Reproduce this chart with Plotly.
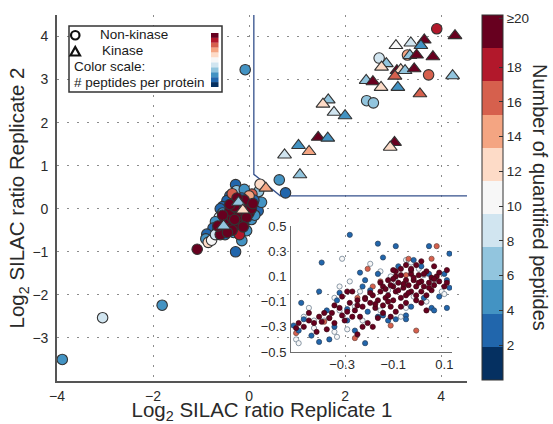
import plotly.graph_objects as go

W, H = 553, 424

# ---------------- colour classes (number of quantified peptides) ----------------
class_colors = ["#053061", "#2166ac", "#4393c3", "#92c5de", "#d1e5f0", "#f7f7f7",
                "#fddbc7", "#f4a582", "#d6604d", "#b2182b", "#67001f"]
cmin, cmax = 0, 21
cbar_tickvals = [2, 4, 6, 8, 10, 12, 14, 16, 18, 20.8]
cbar_ticktext = ["2", "4", "6", "8", "10", "12", "14", "16", "18", "≥20"]

# ---------------- main plot data ----------------
# non-kinase proteins (circles)
nk_x = [3.91, 2.71, 3.30, 3.74, 2.45, 2.59, -0.08, 0.63, 0.76, -1.81, -3.05, -3.89,
        -0.28, -0.26, -0.40, -0.46, -0.55, -0.60, -0.62, -0.70, -0.75, -0.88, -0.90, -0.15,
        -0.28, -0.05, 0.19, 0.26, 0.20, 0.06, 0.23, -0.10, -0.35, 0.10, -0.45, -0.10,
        -0.20, 0.05, -0.50, -0.65, -0.32, 0.00, -0.85, -0.78, -1.08, -0.20, -0.35, 0.00,
        -0.55, -0.15, 0.12, -0.70,
        -0.55, -0.45, -0.40, -0.50, -0.35, -0.30, -0.40, -0.25, -0.20, -0.15, -0.10, -0.05,
        -0.20, -0.30, -0.10, 0.00, -0.15, -0.25, -0.35, -0.60, -0.45, -0.05, 0.05, -0.25,
        -0.40, -0.55, -0.65, -0.30, 0.08, -0.12]
nk_y = [4.18, 3.50, 3.57, 3.11, 2.51, 2.46, 3.23, 0.67, 0.37, -2.24, -2.53, -3.50,
        0.56, 0.42, 0.30, 0.19, 0.05, 0.00, -0.20, -0.30, -0.45, -0.59, -0.70, -0.74,
        -1.00, -0.51, -0.05, 0.15, 0.40, 0.34, 0.57, 0.45, 0.10, 0.20, -0.35, -0.30,
        -0.50, -0.25, -0.60, -0.50, -0.55, 0.05, -0.78, -0.73, -0.94, -0.60, 0.35, 0.30,
        -0.10, 0.25, -0.15, -0.60,
        -0.45, -0.40, -0.30, -0.25, -0.20, -0.10, -0.05, 0.00, -0.15, 0.05, -0.05, 0.10,
        0.15, 0.05, 0.20, -0.10, -0.30, -0.35, -0.50, -0.60, -0.55, -0.20, 0.00, 0.25,
        0.10, -0.15, -0.40, -0.25, 0.12, -0.42]
nk_n = [18, 9, 14, 16, 7, 7, 5, 5, 3, 5, 9, 5,
        3, 7, 3, 3, 3, 3, 9, 5, 3, 3, 5, 5,
        3, 5, 3, 5, 7, 16, 12, 5, 7, 3, 5, 3,
        7, 5, 3, 1, 5, 7, 12, 11, 25, 18, 16, 14,
        5, 3, 5, 9,
        25, 25, 25, 25, 25, 25, 25, 25, 25, 25, 25, 25,
        25, 25, 25, 25, 25, 25, 25, 25, 25, 25, 25, 25,
        25, 25, 25, 25, 25, 25]

# kinases (triangles)
k_x = [4.29, 3.06, 3.37, 3.65, 3.58, 2.86, 2.76, 3.35, 3.49, 3.83, 3.08, 3.16, 3.04,
       3.25, 3.44, 4.24, 2.44, 2.58, 2.75, 3.10, 3.56, 1.65, 1.54, 1.77, 2.00, 1.44,
       1.64, 1.03, 1.25, 0.74, 3.03, 2.94, 1.06, 0.35, -0.22, -0.13, -0.53]
k_y = [4.02, 3.79, 3.85, 3.92, 3.79, 3.37, 3.29, 3.56, 3.57, 3.53, 3.21, 3.23, 3.08,
       3.21, 3.25, 3.09, 2.98, 2.95, 2.82, 2.82, 2.67, 2.53, 2.43, 2.24, 2.16, 1.66,
       1.64, 1.47, 1.33, 1.25, 1.54, 1.43, 0.79, 0.48, 0.15, -0.03, -0.40]
k_n = [25, 11, 9, 25, 5, 7, 12, 7, 25, 25, 25, 12, 16,
       7, 25, 7, 7, 25, 12, 5, 16, 7, 12, 9, 5, 25,
       5, 5, 14, 9, 25, 12, 7, 14, 7, 12, 7]

# significance threshold line
thr_x = [0.10, 0.10, 0.65, 4.54]
thr_y = [4.50, 0.80, 0.30, 0.30]

# ---------------- inset data ----------------
in_blue_x = [-0.27, -0.16, -0.09, 0.04, 0.12, -0.38, -0.14, -0.23, -0.31, -0.39, -0.46, -0.19,
             -0.21, -0.02, 0.04, 0.01, 0.08, 0.05, 0.06, 0.02, -0.05, -0.05, -0.09, -0.14,
             -0.16, -0.20, -0.25, -0.28, -0.45, -0.49, -0.42, -0.39, -0.35, -0.21, -0.33,
             -0.36, -0.28, 0.11, 0.11, 0.10, 0.12, -0.22, -0.08, -0.16, -0.32, -0.47, -0.12, -0.03]
in_blue_y = [0.43, 0.36, 0.34, 0.34, 0.28, 0.21, 0.25, 0.13, -0.03, -0.02, -0.11, -0.01,
             0.07, 0.23, 0.12, 0.18, -0.06, -0.15, -0.17, -0.07, -0.21, -0.24, -0.24, -0.21,
             -0.22, -0.18, -0.33, -0.25, -0.24, -0.29, -0.37, -0.42, -0.40, -0.43, -0.30,
             -0.17, -0.16, -0.15, 0.07, 0.12, 0.01, 0.02, 0.18, 0.12, -0.09, -0.33, -0.25, -0.14]

in_open_x = [-0.30, -0.19, -0.05, -0.04, -0.03, 0.00, -0.11, -0.09, -0.12, 0.02, 0.09, 0.10,
             -0.31, -0.33, -0.43, -0.45, -0.41, -0.37, -0.48, -0.47, -0.41, -0.33, -0.32,
             -0.28, -0.22, -0.15, -0.05, -0.07, -0.02, 0.03, -0.31, -0.25, -0.27, -0.23,
             0.06, -0.15]
in_open_y = [0.24, 0.20, 0.23, 0.23, 0.21, 0.16, 0.10, 0.06, -0.01, 0.11, -0.02, -0.04,
             0.02, -0.07, -0.15, -0.22, -0.25, -0.25, -0.40, -0.43, -0.31, -0.34, -0.38,
             -0.32, -0.25, -0.17, -0.15, -0.22, -0.06, -0.10, -0.17, -0.14, 0.06, -0.02,
             0.07, 0.14]

in_salmon_x = [0.07, -0.04, -0.20, -0.24, -0.37, -0.48, -0.25, -0.01, -0.15, -0.05, -0.35,
               -0.18, -0.11, 0.05]
in_salmon_y = [0.34, 0.24, 0.16, -0.07, -0.26, -0.35, -0.39, -0.33, 0.06, 0.11, -0.23,
               0.02, -0.29, 0.24]

in_red_x = [-0.48, -0.47, -0.45, -0.43, -0.41, -0.39, -0.37, -0.38, -0.35, -0.34, -0.33, -0.31,
            -0.30, -0.29, -0.28, -0.27, -0.26, -0.25, -0.24, -0.23, -0.22, -0.21, -0.20, -0.19,
            -0.18, -0.17, -0.16, -0.16, -0.15, -0.14, -0.14, -0.13, -0.12, -0.12, -0.11, -0.10,
            -0.10, -0.09, -0.09, -0.08, -0.07, -0.07, -0.06, -0.05, -0.05, -0.04, -0.03, -0.03,
            -0.02, -0.01, -0.01, 0.00, 0.01, 0.01, 0.02, 0.03, 0.03, 0.04, 0.05, 0.05, 0.06,
            0.06, 0.07, 0.08, 0.10, 0.11, 0.11, -0.03, -0.07, -0.09, -0.11, -0.05, 0.01, 0.03,
            -0.14, -0.18, -0.22, -0.24, -0.40, -0.36, -0.43, -0.33, -0.30, -0.28, -0.26, -0.09,
            -0.10, -0.07, -0.01, 0.01, -0.05,
            -0.06, -0.02, -0.11, -0.08, 0.00, -0.04, -0.13, 0.02, -0.01, -0.10, 0.04, -0.15,
            -0.19, -0.21, 0.06, 0.08, -0.03, -0.12, -0.17, -0.24]
in_red_y = [-0.31, -0.27, -0.30, -0.25, -0.27, -0.22, -0.19, -0.26, -0.23, -0.19, -0.27, -0.15,
            -0.21, -0.25, -0.18, -0.11, -0.22, -0.17, -0.09, -0.22, -0.14, -0.07, -0.27, -0.11,
            -0.05, -0.15, -0.23, -0.09, -0.02, -0.13, 0.02, -0.07, 0.07, -0.05, -0.14, 0.02,
            -0.09, 0.10, -0.02, 0.05, -0.07, 0.11, 0.01, 0.07, -0.05, 0.03, 0.12, -0.02,
            0.07, -0.09, 0.02, 0.11, -0.02, 0.06, 0.02, 0.14, -0.05, 0.05, 0.09, -0.01, 0.18,
            0.03, 0.10, 0.06, 0.02, 0.15, 0.05, 0.15, -0.14, -0.18, -0.22, -0.11, -0.11, -0.17,
            -0.19, -0.30, -0.30, -0.36, -0.34, -0.32, -0.19, -0.13, -0.06, -0.02, -0.02, 0.14,
            0.15, 0.16, 0.19, 0.22, 0.19,
            0.04, 0.09, 0.03, -0.01, 0.05, -0.03, 0.00, 0.12, -0.05, 0.08, 0.01, 0.05,
            -0.03, -0.08, 0.08, 0.13, 0.16, -0.10, -0.12, -0.13]

# ---------------- helpers ----------------
def colorscale_discrete(colors):
    n = len(colors)
    cs = []
    for i, c in enumerate(colors):
        cs.append([i / n, c])
        cs.append([(i + 1) / n, c])
    return cs

def px_x(p):
    return p / W

def px_y(p):
    return 1 - p / H

FONT = "Liberation Sans, Arial, Helvetica, sans-serif"
TXT = "#2a2a2a"

fig = go.Figure()

# threshold line
fig.add_trace(go.Scatter(x=thr_x, y=thr_y, mode="lines",
                         line=dict(color="#34508c", width=1.3),
                         hoverinfo="skip", showlegend=False))

# non-kinase circles
fig.add_trace(go.Scatter(x=nk_x, y=nk_y, mode="markers", showlegend=False,
                         marker=dict(symbol="circle", size=10.5, color=nk_n, coloraxis="coloraxis",
                                     line=dict(color="#333333", width=1.1))))
# kinase triangles
fig.add_trace(go.Scatter(x=k_x, y=k_y, mode="markers", showlegend=False,
                         marker=dict(symbol="triangle-up", size=12, color=k_n, coloraxis="coloraxis",
                                     line=dict(color="#333333", width=1.1))))

# inset traces
inset_groups = [
    (in_open_x, in_open_y, 11, "#5f7285"),
    (in_salmon_x, in_salmon_y, 16, "#6b4a44"),
    (in_blue_x, in_blue_y, 3, "#2a3f5a"),
    (in_red_x, in_red_y, 25, "#3a0b16"),
]
for gx, gy, n, edge in inset_groups:
    fig.add_trace(go.Scatter(x=gx, y=gy, mode="markers", xaxis="x2", yaxis="y2",
                             showlegend=False,
                             marker=dict(symbol="circle", size=5.2, color=[n] * len(gx),
                                         coloraxis="coloraxis",
                                         line=dict(color=edge, width=0.7))))

grid = dict(showgrid=True, gridcolor="#8c8c8c", gridwidth=1.2, griddash="2px,8px",
            zeroline=False, showline=True, linecolor="#555555", linewidth=1.6,
            ticks="", ticklen=0, automargin=False, tickfont=dict(size=14, color=TXT, family=FONT))

fig.update_layout(
    width=W, height=H,
    margin=dict(l=0, r=0, t=0, b=0, autoexpand=False),
    paper_bgcolor="white", plot_bgcolor="rgba(0,0,0,0)",
    font=dict(family=FONT, color=TXT),
    xaxis=dict(domain=[px_x(57), px_x(467)], range=[-4, 4.54],
               tickvals=[-4, -2, 0, 2, 4], ticklabelstandoff=1,
               title=dict(text="Log<sub>2</sub> SILAC ratio Replicate 1", standoff=5,
                          font=dict(size=20.5, color=TXT, family=FONT)),
               **grid),
    yaxis=dict(domain=[px_y(381), px_y(15)], range=[-4, 4.5],
               tickvals=[-3, -2, -1, 0, 1, 2, 3, 4], ticklabelstandoff=4,
               title=dict(text="Log<sub>2</sub> SILAC ratio Replicate 2", standoff=2,
                          font=dict(size=20.5, color=TXT, family=FONT)),
               **grid),
    xaxis2=dict(domain=[px_x(291), px_x(452)], range=[-0.5, 0.13], anchor="y2",
                tickvals=[-0.3, -0.1, 0.1], ticktext=["−0.3", "−0.1", "0.1"],
                showgrid=False, zeroline=False, showline=True, linecolor="#6e6e6e",
                linewidth=1, ticks="", ticklen=0, ticklabelstandoff=0, automargin=False,
                tickfont=dict(size=13, color=TXT, family=FONT)),
    yaxis2=dict(domain=[px_y(352), px_y(226)], range=[-0.5, 0.5], anchor="x2",
                tickvals=[-0.5, -0.3, -0.1, 0.1, 0.3, 0.5],
                ticktext=["−0.5", "−0.3", "−0.1", "0.1", "0.3", "0.5"],
                showgrid=False, zeroline=False, showline=True, linecolor="#6e6e6e",
                linewidth=1, ticks="", ticklen=0, ticklabelstandoff=1, automargin=False,
                tickfont=dict(size=13, color=TXT, family=FONT)),
    coloraxis=dict(
        cmin=cmin, cmax=cmax, colorscale=colorscale_discrete(class_colors),
        colorbar=dict(x=px_x(482), xanchor="left", y=(px_y(15) + px_y(380)) / 2,
                      yanchor="middle", lenmode="pixels", len=365,
                      thicknessmode="pixels", thickness=21, xpad=0, ypad=0,
                      outlinewidth=1, outlinecolor="#333333",
                      tickvals=cbar_tickvals, ticktext=cbar_ticktext,
                      ticks="inside", ticklen=4, tickcolor="#333333",
                      tickfont=dict(size=13.5, color=TXT, family=FONT)),
    ),
)

# colour-bar title
fig.add_annotation(x=1.0, y=px_y(197), xref="paper", yref="paper", showarrow=False,
                   xanchor="right", yanchor="middle", borderpad=0, xshift=-1,
                   textangle=90, text="Number of quantified peptides",
                   font=dict(size=20, color=TXT, family=FONT))

# legend box
fig.add_shape(type="rect", xref="paper", yref="paper",
              x0=px_x(69), x1=px_x(222), y0=px_y(92), y1=px_y(26),
              line=dict(color="#333333", width=1.5), fillcolor="white", layer="above")
fig.add_shape(type="circle", xref="paper", yref="paper",
              x0=px_x(71), x1=px_x(79.5), y0=px_y(39.5), y1=px_y(31),
              line=dict(color="#111111", width=2.2), layer="above")
fig.add_shape(type="path", xref="paper", yref="paper",
              path=f"M {px_x(70.5)},{px_y(55.5)} L {px_x(80)},{px_y(55.5)} L {px_x(75.25)},{px_y(47)} Z",
              line=dict(color="#111111", width=2.2), layer="above")
legend_lines = [("Non-kinase", 98, 35), ("Kinase", 100, 51),
                ("Color scale:", 72, 67), ("# peptides per protein", 72, 82)]
for txt, lx, ly in legend_lines:
    fig.add_annotation(x=px_x(lx), y=px_y(ly), xref="paper", yref="paper", showarrow=False,
                       xanchor="left", yanchor="middle", text=txt,
                       font=dict(size=13.5, color="#1a1a1a", family=FONT))
# mini colour scale inside legend
n_cls = len(class_colors)
top, bottom = 33, 87
step = (bottom - top) / n_cls
for i, c in enumerate(reversed(class_colors)):
    fig.add_shape(type="rect", xref="paper", yref="paper",
                  x0=px_x(211), x1=px_x(218.5),
                  y0=px_y(top + (i + 1) * step), y1=px_y(top + i * step),
                  line=dict(width=0), fillcolor=c, layer="above")

fig.write_html("out.html", config={"displayModeBar": False},
               post_script="document.body.style.margin='0';")
